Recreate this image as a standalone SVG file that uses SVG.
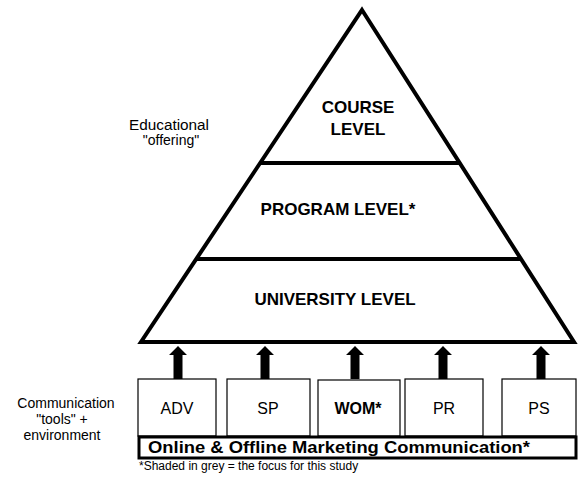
<svg xmlns="http://www.w3.org/2000/svg" width="578" height="481" viewBox="0 0 578 481">
  <style>
    text { font-family: "Liberation Sans", Arial, sans-serif; fill: #000; }
    .lvl { font-size: 17px; font-weight: bold; text-anchor: middle; }
    .side { font-size: 14px; text-anchor: middle; }
    .box { fill: #fff; stroke: #000; stroke-width: 1.2; }
    .boxlbl { font-size: 16px; text-anchor: middle; }
    .line { fill: none; stroke: #000; stroke-width: 4; stroke-linejoin: miter; }
    .arrow { fill: #000; }
  </style>
  <rect width="578" height="481" fill="#fff"/>

  <g id="pyramid">
    <polygon class="line" points="362,10 574,342 141,342"/>
    <line class="line" x1="261" y1="163" x2="459" y2="163" stroke-width="3.5"/>
    <line class="line" x1="197" y1="259" x2="520" y2="259" stroke-width="3.5"/>
  </g>
  <g id="course-level">
    <text class="lvl" x="358" y="113">COURSE</text>
    <text class="lvl" x="358" y="135">LEVEL</text>
  </g>
  <g id="program-level">
    <text class="lvl" x="338" y="215">PROGRAM LEVEL*</text>
  </g>
  <g id="university-level">
    <text class="lvl" x="335" y="305">UNIVERSITY LEVEL</text>
  </g>

  <g id="label-educational">
    <text class="side" x="169" y="130" textLength="80" lengthAdjust="spacingAndGlyphs">Educational</text>
    <text class="side" x="171" y="145">"offering"</text>
  </g>
  <g id="label-communication">
    <text class="side" x="66" y="408" font-size="15">Communication</text>
    <text class="side" x="62" y="424" font-size="15">"tools" +</text>
    <text class="side" x="62" y="440" font-size="15">environment</text>
  </g>

  <g id="connectors">
    <polygon class="arrow" points="169,355 178,346 187,355 182.5,355 182.5,379 173.5,379 173.5,355"/>
    <polygon class="arrow" points="256,355 265,346 274,355 269.5,355 269.5,379 260.5,379 260.5,355"/>
    <polygon class="arrow" points="346,355 355,346 364,355 359.5,355 359.5,379 350.5,379 350.5,355"/>
    <polygon class="arrow" points="434,355 443,346 452,355 447.5,355 447.5,379 438.5,379 438.5,355"/>
    <polygon class="arrow" points="532,355 541,346 550,355 545.5,355 545.5,379 536.5,379 536.5,355"/>
  </g>

  <g id="adv">
    <rect class="box" x="138" y="379" width="78" height="57"/>
    <text class="boxlbl" x="177" y="414">ADV</text>
  </g>
  <g id="sp">
    <rect class="box" x="227" y="379" width="83" height="57"/>
    <text class="boxlbl" x="268" y="414">SP</text>
  </g>
  <g id="wom">
    <rect class="box" x="318" y="380" width="82" height="56" stroke-width="3"/>
    <text class="boxlbl" x="358" y="414" font-weight="bold">WOM*</text>
  </g>
  <g id="pr">
    <rect class="box" x="405" y="379" width="78" height="57"/>
    <text class="boxlbl" x="444" y="414">PR</text>
  </g>
  <g id="ps">
    <rect class="box" x="502" y="379" width="74" height="57"/>
    <text class="boxlbl" x="539" y="414">PS</text>
  </g>

  <g id="marketing-communication">
    <rect x="139" y="437" width="437" height="21" fill="#fff" stroke="#000" stroke-width="3"/>
    <text x="339" y="453" font-size="17" font-weight="bold" text-anchor="middle" textLength="382" lengthAdjust="spacingAndGlyphs">Online &amp; Offline Marketing Communication*</text>
  </g>

  <g id="footnote">
    <text x="139" y="470" font-size="12">*Shaded in grey = the focus for this study</text>
  </g>
</svg>
